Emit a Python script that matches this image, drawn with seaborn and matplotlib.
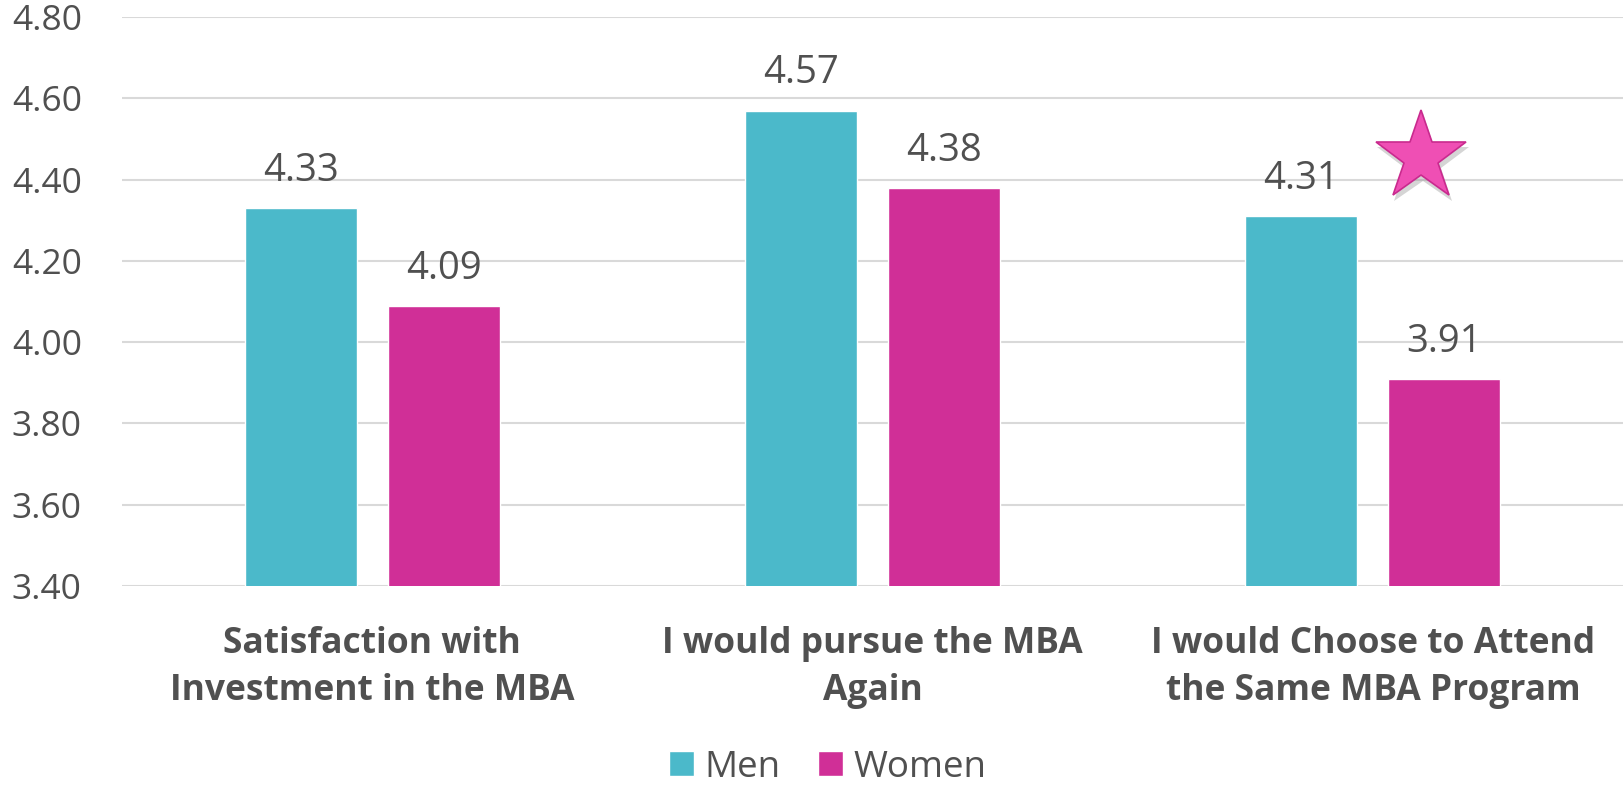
import matplotlib
matplotlib.use("Agg")
import matplotlib.pyplot as plt
import seaborn as sns
import pandas as pd

categories = ["Satisfaction with\nInvestment in the MBA",
              "I would pursue the MBA\nAgain",
              "I would Choose to Attend\nthe Same MBA Program"]
men = [4.33, 4.57, 4.31]
women = [4.09, 4.38, 3.91]
groups = ["Men", "Women"]
colors = ["#4BB9CA", "#D02F97"]
y_ticks = [3.40, 3.60, 3.80, 4.00, 4.20, 4.40, 4.60, 4.80]
star_x, star_y = 2.097, 4.456

df = pd.DataFrame({
    "category": categories * 2,
    "group": ["Men"] * 3 + ["Women"] * 3,
    "value": men + women,
})

sns.set_theme(style="white")
plt.rcParams["font.family"] = ["Open Sans", "DejaVu Sans"]
txt = "#505050"

fig = plt.figure(figsize=(16.23, 7.85), dpi=100)
ax = fig.add_axes([0.0752, 0.2535, 0.9248, 0.7248])

sns.barplot(data=df, x="category", y="value", hue="group", hue_order=groups,
            palette=colors, width=0.572, gap=0.217, ax=ax, saturation=1,
            legend=True)

ax.set_ylim(y_ticks[0], y_ticks[-1])
ax.set_xlim(-0.5, 2.5)
ax.set_yticks(y_ticks)
ax.set_yticklabels([f"{t:.2f}" for t in y_ticks])
ax.yaxis.grid(True, color="#D9D9D9", linewidth=1.5)
ax.set_axisbelow(True)
for s in ax.spines.values():
    s.set_visible(False)
ax.tick_params(axis="y", length=0, pad=29, labelsize=25.5, labelcolor=txt)
ax.tick_params(axis="x", length=0, pad=29, labelsize=25.5, labelcolor=txt)
for lab in ax.get_xticklabels():
    lab.set_fontweight("bold")
    lab.set_linespacing(1.39)
ax.set_xlabel("")
ax.set_ylabel("")

for cont in ax.containers:
    ax.bar_label(cont, fmt="%.2f", padding=13, fontsize=27.5, color=txt)

# star annotation
ax.plot([star_x + 0.004], [star_y - 0.012], marker="*", markersize=70,
        color="#888888", alpha=0.35, markeredgewidth=0, clip_on=False, zorder=4)
ax.plot([star_x], [star_y], marker="*", markersize=68,
        markerfacecolor="#EF4FB4", markeredgecolor="#C92A8E",
        markeredgewidth=1.2, clip_on=False, zorder=5)

handles, labels = ax.get_legend_handles_labels()
ax.get_legend().remove()
fig.legend(handles, labels, loc="center", bbox_to_anchor=(0.51, 0.022),
           ncol=2, frameon=False, fontsize=26.5, handlelength=0.68,
           handleheight=0.68, handletextpad=0.3, columnspacing=1.0,
           labelcolor=txt)

fig.savefig("out.png", dpi=100)
